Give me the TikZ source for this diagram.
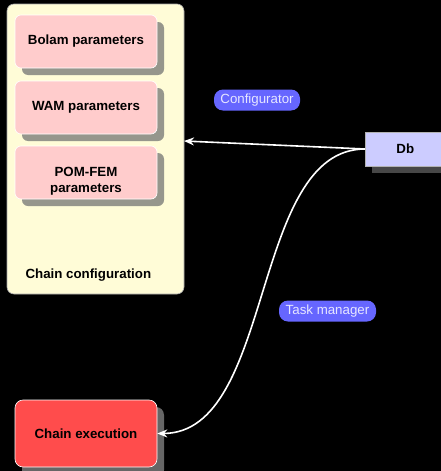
\documentclass[tikz,border=0pt]{standalone}
\usepackage{fontspec}
\setmainfont{Liberation Sans}
\usetikzlibrary{arrows.meta}
\definecolor{cfgyellow}{RGB}{255,252,215}
\definecolor{parpink}{RGB}{255,204,204}
\definecolor{dbblue}{RGB}{204,204,255}
\definecolor{execred}{RGB}{255,76,76}
\definecolor{tagblue}{RGB}{102,102,255}
\definecolor{tagtext}{RGB}{230,230,255}
\definecolor{parshadow}{RGB}{150,150,140}
\tikzset{
  parbox/.style={rectangle, rounded corners=6pt, fill=parpink, draw=white, line width=0.6pt,
    minimum width=142pt, minimum height=53pt, align=center,
    font=\fontsize{13.3}{16}\selectfont\bfseries, text=black},
  tag/.style={rectangle, rounded corners=9pt, fill=tagblue, text=tagtext, inner sep=0pt,
    font=\fontsize{13.3}{15}\selectfont, minimum height=21pt},
  link/.style={draw=white, line width=1.6pt, -{Stealth[length=10pt,width=8pt]}},
}
\begin{document}
\begin{tikzpicture}[x=1pt,y=-1pt]
  \fill[black] (0,0) rectangle (441,471);
  \useasboundingbox (0,0) rectangle (441,471);

  % configuration container
  \draw[fill=cfgyellow, draw=gray!70, rounded corners=7pt, line width=0.6pt] (7,4) rectangle (184,294);
  \node[anchor=west, font=\fontsize{13.3}{15}\selectfont\bfseries] (cfglabel) at (22,275) {Chain configuration};

  % parameter boxes with drop shadows
  \foreach \yt in {15,81,146} {
    \fill[parshadow, rounded corners=6pt] (22,\yt+7) rectangle (164,\yt+60);
  }
  \node[parbox] (bolam) at (86,41.5) {Bolam parameters};
  \node[parbox] (wam) at (86,107.5) {WAM parameters};
  \node[parbox] (pom) at (86,172.5) {\rule{0pt}{26pt}POM-FEM\\parameters};

  % database
  \fill[black!72] (372,139) rectangle (445,173);
  \node[rectangle, fill=dbblue, draw=gray!60, line width=0.6pt, minimum width=80pt, minimum height=34pt,
    font=\fontsize{13.3}{15}\selectfont\bfseries, anchor=west] (db) at (365,149) {Db};

  % execution box
  \fill[black!60, rounded corners=8pt] (22,407) rectangle (164,478);
  \node[rectangle, rounded corners=8pt, fill=execred, draw=white, line width=0.6pt,
    minimum width=142pt, minimum height=67pt, font=\fontsize{13.3}{15}\selectfont\bfseries] (exec) at (86,433.5) {Chain execution};

  \coordinate (cfgin) at (184,141);
  \draw[link] (db.west) -- (cfgin);
  \draw[link] (db.west) .. controls (250,149) and (275,433) .. (exec.east);

  \node[tag, minimum width=86pt] (conf) at (257,100) {Configurator};
  \node[tag, minimum width=97pt] (task) at (327.5,311) {Task manager};
\end{tikzpicture}
\end{document}
